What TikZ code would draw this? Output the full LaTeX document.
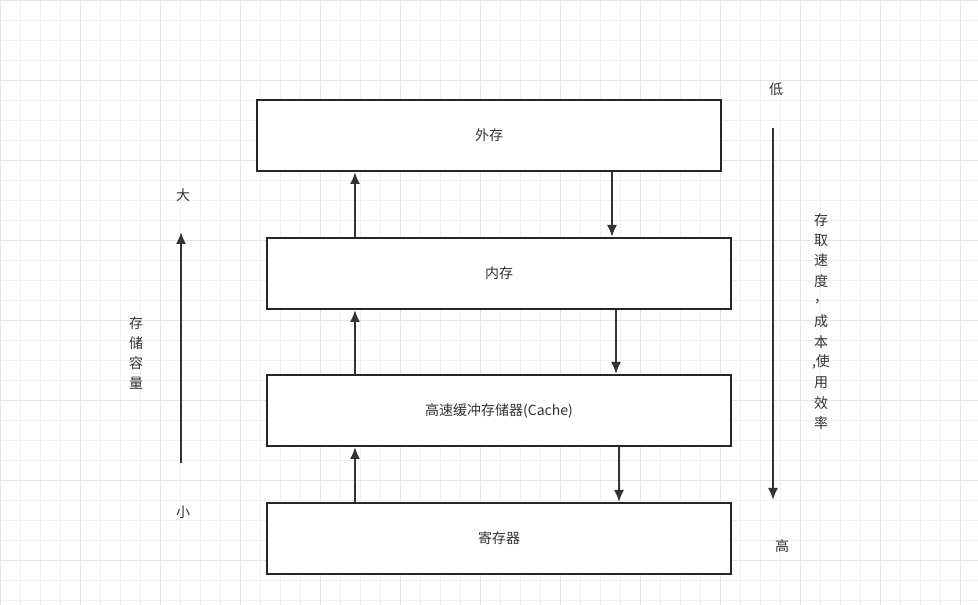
\documentclass[tikz,border=0pt]{standalone}
\usepackage{fontspec}
\setmainfont{Noto Sans CJK SC}
\usetikzlibrary{arrows.meta}
\begin{document}
\begin{tikzpicture}[x=0.75pt,y=-0.75pt,
  box/.style={draw=black!85,line width=1.5pt,fill=white,font=\fontsize{10.5}{12}\selectfont,text=black!80},
  arr/.style={draw=black!80,line width=1.5pt,-{Latex[length=9pt,width=7.5pt]}},
  lbl/.style={font=\fontsize{10.5}{12}\selectfont,text=black!80,inner sep=0pt}]
\useasboundingbox (0,0) rectangle (978,605);
\fill[white] (0,0) rectangle (978,605);
\foreach \i in {0,20,...,980} \draw[black!6,line width=0.5pt] (\i,0) -- (\i,605);
\foreach \i in {0,20,...,600} \draw[black!6,line width=0.5pt] (0,\i) -- (978,\i);
\foreach \i in {0,80,...,980} \draw[black!10,line width=0.5pt] (\i,0) -- (\i,605);
\foreach \i in {0,80,...,600} \draw[black!10,line width=0.5pt] (0,\i) -- (978,\i);
\node[box,minimum width=464*0.75pt,minimum height=71*0.75pt] (ext) at (489,135.5) {外存};
\node[box,minimum width=464*0.75pt,minimum height=71*0.75pt] (mem) at (499,273.5) {内存};
\node[box,minimum width=464*0.75pt,minimum height=71*0.75pt] (cache) at (499,410.5) {高速缓冲存储器(Cache)};
\node[box,minimum width=464*0.75pt,minimum height=71*0.75pt] (reg) at (499,538.5) {寄存器};
\draw[arr] (mem.north -| 355,0) -- (ext.south -| 355,0);
\draw[arr] (cache.north -| 355,0) -- (mem.south -| 355,0);
\draw[arr] (reg.north -| 355,0) -- (cache.south -| 355,0);
\draw[arr] (ext.south -| 612,0) -- (mem.north -| 612,0);
\draw[arr] (mem.south -| 616,0) -- (cache.north -| 616,0);
\draw[arr] (cache.south -| 619,0) -- (reg.north -| 619,0);
\coordinate (lb) at (181,463); \coordinate (lt) at (181,232);
\draw[arr] (lb) -- (lt);
\coordinate (rt) at (773,128); \coordinate (rb) at (773,500);
\draw[arr] (rt) -- (rb);
\node[lbl] (big) at (183,195) {大};
\node[lbl] (small) at (183,512) {小};
\node[lbl,align=center] (cap) at (136,353) {存\\[3pt]储\\[3pt]容\\[3pt]量};
\node[lbl] (low) at (776,89) {低};
\node[lbl] (high) at (782,546) {高};
\foreach \t [count=\k from 0] in {存,取,速,度,{，},成,本,{,使},用,效,率}
  \node[lbl] at (821,220+20.3*\k) {\t};
\end{tikzpicture}
\end{document}
